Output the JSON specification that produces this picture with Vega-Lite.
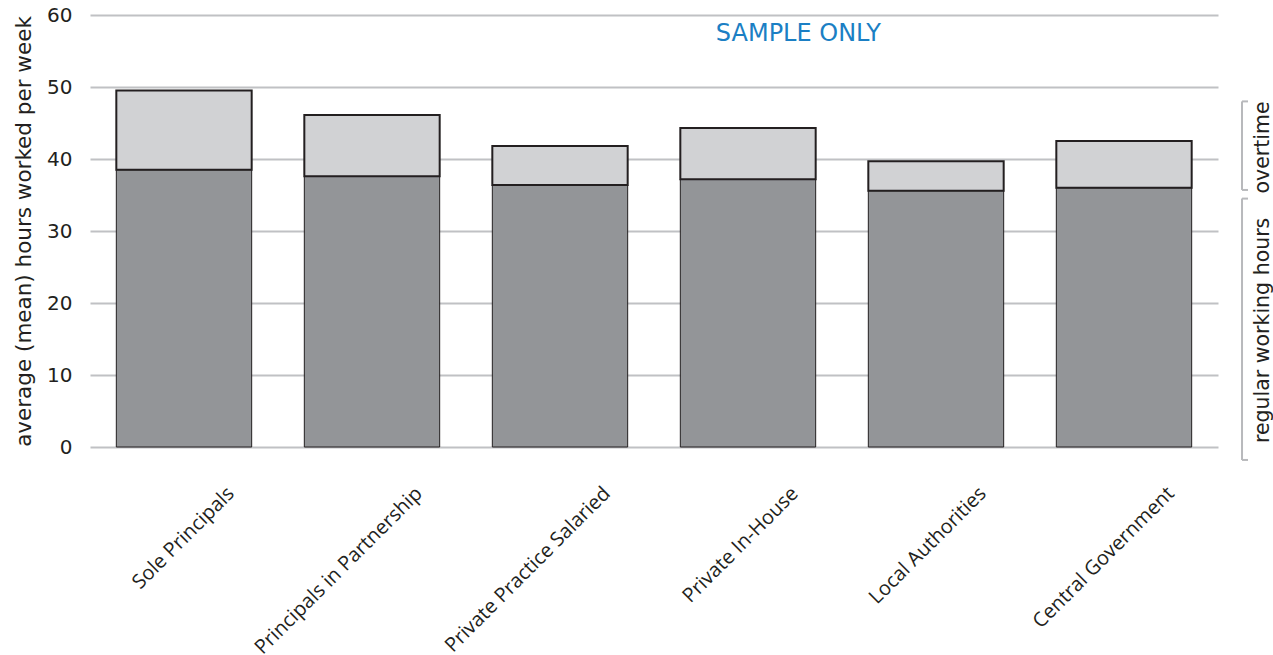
{
  "$schema": "https://vega.github.io/schema/vega-lite/v6.json",
  "width": 1128,
  "height": 432,
  "autosize": "none",
  "padding": {"left": 90, "top": 15, "right": 55, "bottom": 208},
  "background": "white",
  "config": {"view": {"stroke": null}},
  "datasets": {
    "bars": [
      {"sector": "Sole Principals", "regular": 38.5, "total": 49.5},
      {"sector": "Principals in Partnership", "regular": 37.6, "total": 46.1},
      {"sector": "Private Practice Salaried", "regular": 36.4, "total": 41.8},
      {"sector": "Private In-House", "regular": 37.2, "total": 44.3},
      {"sector": "Local Authorities", "regular": 35.6, "total": 39.7},
      {"sector": "Central Government", "regular": 36.0, "total": 42.5}
    ],
    "brackets": [
      {"x": 1.0213, "x2": 1.0213, "y": 48.0, "y2": 35.7},
      {"x": 1.0213, "x2": 1.0266, "y": 48.0, "y2": 48.0},
      {"x": 1.0213, "x2": 1.0266, "y": 35.7, "y2": 35.7},
      {"x": 1.0213, "x2": 1.0213, "y": 34.5, "y2": -1.8},
      {"x": 1.0213, "x2": 1.0266, "y": 34.5, "y2": 34.5},
      {"x": 1.0213, "x2": 1.0266, "y": -1.8, "y2": -1.8}
    ],
    "notes": [
      {"label": "overtime", "x": 1.0395, "y": 41.6},
      {"label": "regular working hours", "x": 1.0395, "y": 16.2}
    ],
    "stamp": [
      {"label": "SAMPLE ONLY", "x": 0.628, "y": 57.3}
    ]
  },
  "layer": [
    {
      "data": {"name": "bars"},
      "layer": [
        {
          "mark": {"type": "bar", "color": "#939598", "stroke": "#231f20", "strokeWidth": 1},
          "encoding": {
            "x": {
              "field": "sector", "type": "nominal", "sort": null,
              "scale": {"paddingInner": 0.28, "paddingOuter": 0.14},
              "axis": {
                "title": null, "domain": false, "ticks": false, "grid": false,
                "labelAngle": -45, "labelAlign": "right", "labelBaseline": "top",
                "labelPadding": 36, "labelOffset": 40, "labelLimit": 0,
                "labelFont": "Open Sans", "labelFontSize": 20, "labelColor": "#231f20"
              }
            },
            "y": {
              "field": "regular", "type": "quantitative",
              "title": "average (mean) hours worked per week",
              "scale": {"domain": [0, 60], "nice": false},
              "axis": {
                "titleFont": "DejaVu Sans", "titleFontSize": 21.5, "titleFontWeight": "normal",
                "titleColor": "#231f20", "titlePadding": 11,
                "values": [0, 10, 20, 30, 40, 50, 60],
                "domain": false, "ticks": false,
                "labelFont": "DejaVu Sans", "labelFontSize": 20, "labelColor": "#231f20",
                "labelPadding": 18,
                "grid": true, "gridColor": "#c0c1c4", "gridWidth": 2
              }
            }
          }
        },
        {
          "mark": {"type": "bar", "color": "#d1d2d4", "stroke": "#231f20", "strokeWidth": 2},
          "encoding": {
            "x": {"field": "sector", "type": "nominal", "sort": null},
            "y": {"field": "regular", "type": "quantitative", "title": "average (mean) hours worked per week"},
            "y2": {"field": "total"}
          }
        }
      ]
    },
    {
      "data": {"name": "brackets"},
      "mark": {"type": "rule", "color": "#b8b9bc", "strokeWidth": 2},
      "encoding": {
        "x": {"field": "x", "type": "quantitative", "scale": {"domain": [0, 1]}, "axis": null},
        "x2": {"field": "x2"},
        "y": {"field": "y", "type": "quantitative", "title": "average (mean) hours worked per week"},
        "y2": {"field": "y2"}
      }
    },
    {
      "data": {"name": "notes"},
      "mark": {"type": "text", "angle": 270, "font": "DejaVu Sans", "fontSize": 20.5, "color": "#231f20", "align": "center", "baseline": "middle"},
      "encoding": {
        "x": {"field": "x", "type": "quantitative", "scale": {"domain": [0, 1]}, "axis": null},
        "y": {"field": "y", "type": "quantitative", "title": "average (mean) hours worked per week"},
        "text": {"field": "label"}
      }
    },
    {
      "data": {"name": "stamp"},
      "mark": {"type": "text", "font": "DejaVu Sans", "fontSize": 24, "color": "#1b7fc4", "align": "center", "baseline": "middle"},
      "encoding": {
        "x": {"field": "x", "type": "quantitative", "scale": {"domain": [0, 1]}, "axis": null},
        "y": {"field": "y", "type": "quantitative", "title": "average (mean) hours worked per week"},
        "text": {"field": "label"}
      }
    }
  ],
  "resolve": {"scale": {"x": "independent"}}
}
